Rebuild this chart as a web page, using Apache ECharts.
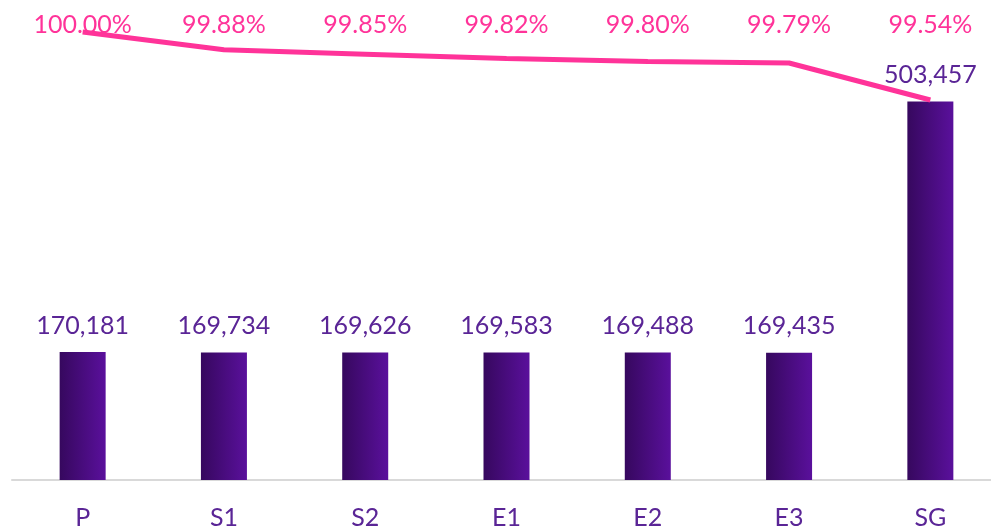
<!DOCTYPE html>
<html>
<head>
<meta charset="utf-8">
<script src="https://cdn.jsdelivr.net/npm/echarts@6/dist/echarts.min.js"></script>
<style>
  html, body { margin: 0; padding: 0; background: #fff; }
  #chart { width: 991px; height: 527px; }
</style>
</head>
<body>
<div id="chart"></div>
<script>
// 数据
var categories = ['P', 'S1', 'S2', 'E1', 'E2', 'E3', 'SG'];
var counts = [170181, 169734, 169626, 169583, 169488, 169435, 503457];
var percents = [100.00, 99.88, 99.85, 99.82, 99.80, 99.79, 99.54];

var purpleText = '#5a2596';
var pink = '#ff3399';
var fontFam = 'Lato, "Open Sans", sans-serif';

var chart = echarts.init(document.getElementById('chart'));
var option = {
    animation: false,
    grid: { left: 12, width: 989, top: 29, bottom: 47, outerBoundsMode: 'none', containLabel: false },
    xAxis: {
        type: 'category',
        data: categories,
        axisLine: { lineStyle: { color: '#d9d9d9', width: 2 } },
        axisTick: { show: false },
        axisLabel: { color: purpleText, fontSize: 25, fontFamily: fontFam, margin: 25 }
    },
    yAxis: [
        { type: 'value', min: 0, max: 600000, show: false, splitLine: { show: false } },
        { type: 'value', min: 96.97, max: 100.02, show: false, splitLine: { show: false } }
    ],
    series: [
        {
            type: 'bar',
            data: counts,
            barWidth: 46,
            itemStyle: {
                color: new echarts.graphic.LinearGradient(0, 0, 1, 0, [
                    { offset: 0, color: '#36085e' },
                    { offset: 1, color: '#5a109c' }
                ])
            },
            label: {
                show: true,
                position: 'top',
                distance: 14,
                color: purpleText,
                fontSize: 25,
                fontFamily: fontFam,
                formatter: function (p) { return p.value.toLocaleString('en-US'); }
            }
        },
        {
            type: 'line',
            yAxisIndex: 1,
            data: percents,
            symbol: 'circle',
            symbolSize: 1,
            showSymbol: true,
            itemStyle: { color: 'rgba(0,0,0,0)', borderWidth: 0 },
            z: 3,
            lineStyle: { color: pink, width: 5 },
            label: {
                show: true,
                position: 'top',
                color: pink,
                fontSize: 25,
                fontFamily: fontFam,
                formatter: function (p) { return p.value.toFixed(2) + '%'; }
            },
            labelLayout: function () {
                return { y: 25, align: 'center', verticalAlign: 'middle' };
            }
        }
    ]
};
chart.setOption(option);
</script>
</body>
</html>
